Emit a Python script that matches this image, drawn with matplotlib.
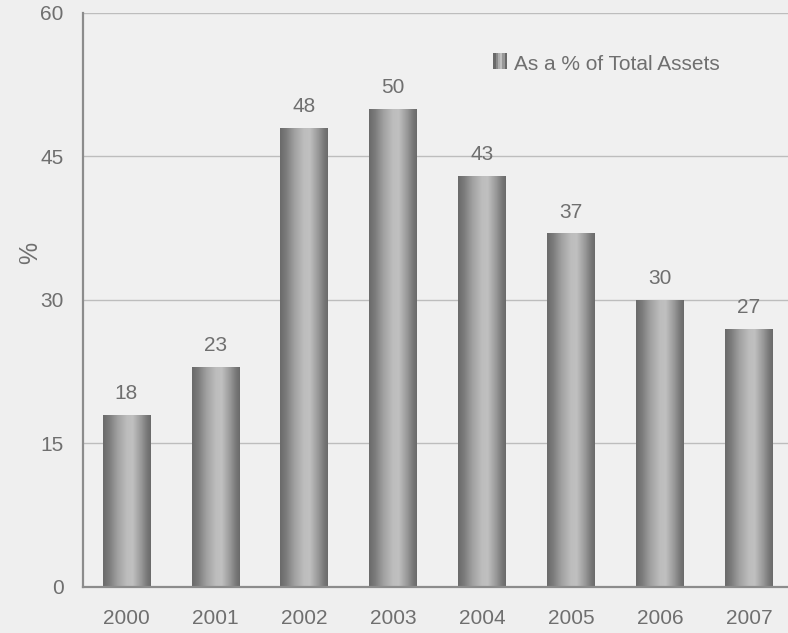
import numpy as np
import matplotlib.pyplot as plt
from matplotlib.colors import LinearSegmentedColormap
from matplotlib.patches import Rectangle
from matplotlib.legend_handler import HandlerBase

# ---------------------------------------------------------------------------
# Data
# ---------------------------------------------------------------------------

years = ["2000", "2001", "2002", "2003", "2004", "2005", "2006", "2007"]
pct_total_assets = [18, 23, 48, 50, 43, 37, 30, 27]
value_labels = ["18", "23", "48", "50", "43", "37", "30", "27"]
series_name = "As a % of Total Assets"
y_ticks = [0, 15, 30, 45, 60]

# ---------------------------------------------------------------------------
# Style
# ---------------------------------------------------------------------------

TEXT = "#6f6f6f"
FS = 15
plt.rcParams["font.family"] = ["Liberation Sans", "DejaVu Sans"]

# cylinder-like horizontal shading for the bars
bar_cmap = LinearSegmentedColormap.from_list(
    "cyl",
    [(0.0, "#6a6a6a"), (0.12, "#7a7a7a"), (0.3, "#a0a0a0"),
     (0.5, "#bdbdbd"), (0.62, "#c0c0c0"), (0.8, "#989898"),
     (0.92, "#787878"), (1.0, "#6a6a6a")],
)
gradient = np.linspace(0, 1, 256).reshape(1, -1)


class GradientHandler(HandlerBase):
    def create_artists(self, legend, orig, xd, yd, width, height, fontsize, trans):
        arts = []
        n = 6
        for i in range(n):
            c = bar_cmap(i / (n - 1))
            arts.append(Rectangle((xd + i * width / n, yd), width / n, height,
                                  facecolor=c, edgecolor="none", transform=trans))
        return arts


fig = plt.figure(figsize=(7.88, 6.33), dpi=100)
fig.patch.set_facecolor("#efefef")
ax = fig.add_axes([0.1053, 0.0727, 0.8947, 0.9068])
ax.set_facecolor("#f0f0f0")

x = np.arange(len(years))
width = 0.53
bars = ax.bar(x, pct_total_assets, width=width, color="#999999", zorder=2)
for b in bars:
    b.set_facecolor("none")
    x0, y0 = b.get_x(), b.get_y()
    w, h = b.get_width(), b.get_height()
    im = ax.imshow(gradient, cmap=bar_cmap, aspect="auto",
                   extent=(x0, x0 + w, y0, y0 + h), zorder=2,
                   interpolation="bilinear")
    im.set_clip_path(b)

for xi, v, lab in zip(x, pct_total_assets, value_labels):
    ax.text(xi, v + 1.2, lab, ha="center", va="bottom",
            fontsize=FS, color=TEXT)

ax.set_xlim(-0.485, 7.44)
ax.set_ylim(0, 60)
ax.set_yticks(y_ticks)
ax.set_xticks(x)
ax.set_xticklabels(years)
ax.tick_params(length=0, labelsize=FS, labelcolor=TEXT)
ax.tick_params(axis="x", pad=16)
ax.tick_params(axis="y", pad=14)
ax.grid(axis="y", color="#bdbdbd", linewidth=1.0, zorder=0)
ax.set_axisbelow(True)
for s in ["top", "right"]:
    ax.spines[s].set_visible(False)
ax.spines["left"].set_color("#8c8c8c")
ax.spines["left"].set_linewidth(1.6)
ax.spines["bottom"].set_color("#8c8c8c")
ax.spines["bottom"].set_linewidth(1.6)

# y axis title
fig.text(30 / 788, 1 - 253 / 633, "%", rotation=90, ha="center", va="center",
         fontsize=18, color=TEXT)

handle = Rectangle((0, 0), 1, 1)
leg = ax.legend([handle], [series_name], handler_map={Rectangle: GradientHandler()},
                loc="upper right", bbox_to_anchor=(0.93, 0.96), frameon=False,
                fontsize=FS, labelcolor=TEXT, handlelength=0.65,
                handleheight=0.8, handletextpad=0.35)

fig.savefig("out.png", dpi=100, facecolor=fig.get_facecolor())
